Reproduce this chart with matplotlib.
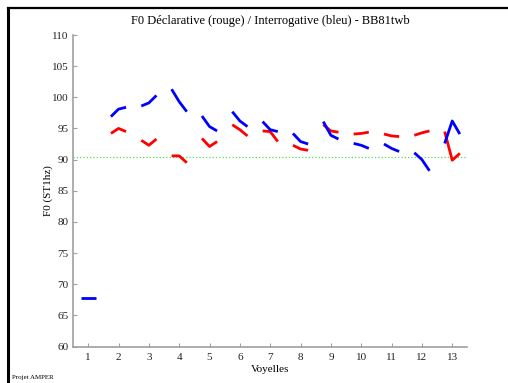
import numpy as np
import matplotlib
matplotlib.use("Agg")
import matplotlib.pyplot as plt
from matplotlib.lines import Line2D

plt.rcParams['font.family'] = ['Liberation Serif', 'DejaVu Serif']

# F0 per vowel, three points per vowel (start, middle, end)
vowels = list(range(1, 14))
interrog_blue = [
    [67.8, 67.8, 67.8],
    [96.9, 98.1, 98.4],
    [98.6, 99.1, 100.3],
    [101.3, 99.3, 97.7],
    [97.0, 95.3, 94.6],
    [97.7, 96.2, 95.3],
    [96.1, 94.8, 94.5],
    [94.2, 92.9, 92.5],
    [96.1, 93.9, 93.3],
    [92.6, 92.3, 91.8],
    [92.5, 91.8, 91.3],
    [91.1, 90.0, 88.2],
    [92.6, 96.2, 94.1],
]
decl_red = [
    None,
    [94.2, 95.0, 94.5],
    [93.1, 92.3, 93.3],
    [90.6, 90.6, 89.5],
    [93.4, 92.1, 92.9],
    [95.6, 94.8, 93.8],
    [94.6, 94.5, 92.9],
    [92.3, 91.7, 91.5],
    [95.6, 94.6, 94.4],
    [94.1, 94.2, 94.4],
    [94.1, 93.8, 93.7],
    [93.9, 94.3, 94.6],
    [94.5, 89.9, 91.0],
]
ref_level = 90.45
offsets = [-0.25, 0.0, 0.25]

fig = plt.figure(figsize=(5.08, 3.83), dpi=100)
ax = fig.add_axes([0.1437, 0.0953, 0.7764, 0.8133])

grey = '#a0a0a0'
ax.axhline(ref_level, color='#55dd55', linestyle=':', linewidth=0.9, zorder=1)

for v, seg in zip(vowels, decl_red):
    if seg is not None:
        ax.plot([v + o for o in offsets], seg, color='red', linewidth=2.0,
                solid_capstyle='butt', zorder=2)
for v, seg in zip(vowels, interrog_blue):
    ax.plot([v + o for o in offsets], seg, color='blue', linewidth=2.0,
            solid_capstyle='butt', zorder=3)

ax.set_xlim(0.5, 13.5)
ax.set_ylim(60, 110)
ax.set_xticks(vowels)
ax.set_yticks(np.arange(60, 111, 5))
ax.tick_params(direction='in', length=3, color=grey, labelsize=8, labelcolor='#222222')
ax.tick_params(axis='x', pad=5)
for s in ['top', 'right']:
    ax.spines[s].set_visible(False)
for s in ['left', 'bottom']:
    ax.spines[s].set_color(grey)
    ax.spines[s].set_linewidth(1.2)

ax.set_title('F0 Déclarative (rouge) / Interrogative (bleu) - BB81twb',
             fontsize=9, pad=8)
ax.set_xlabel('Voyelles', fontsize=8, labelpad=2)
ax.set_ylabel('F0 (ST1hz)', fontsize=8, labelpad=-1)

fig.text(12 / 508, 1 - 377 / 383, 'Projet AMPER', fontsize=5, va='center')

# frame around figure (left and top)
fig.add_artist(Line2D([8 / 508, 8 / 508], [0, 1 - 8 / 383], color='black', linewidth=2.2))
fig.add_artist(Line2D([8 / 508, 1], [1 - 8 / 383, 1 - 8 / 383], color='black', linewidth=1.6))

fig.savefig('out.png', dpi=100)
